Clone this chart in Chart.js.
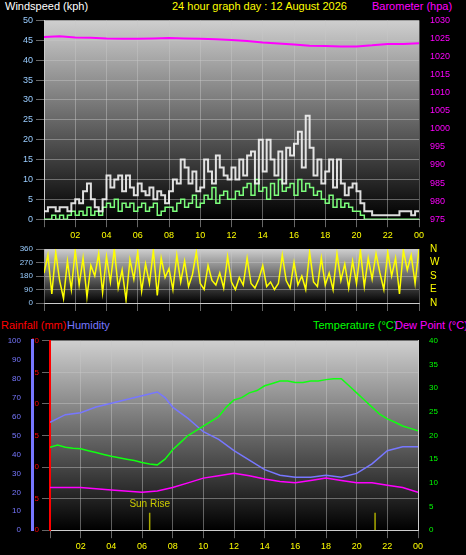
<!DOCTYPE html>
<html><head><meta charset="utf-8">
<script src="https://cdn.jsdelivr.net/npm/chart.js@4"></script>
<style>
body{margin:0;background:#000;width:466px;height:555px;position:relative;overflow:hidden;font-family:"Liberation Sans",Arial,sans-serif}
canvas{position:absolute;left:0}
.t{position:absolute;font-size:11px;white-space:nowrap}
</style></head><body>
<div class="t" style="left:5px;top:0px;color:#fff">Windspeed (kph)</div>
<div class="t" style="left:172px;top:0px;color:#ff0">24 hour graph day : 12 August 2026</div>
<div class="t" style="left:372px;top:0px;color:#f0f">Barometer (hpa)</div>
<div class="t" style="left:1px;top:319px;color:#f00">Rainfall (mm)</div>
<div class="t" style="left:67px;top:319px;color:#77f">Humidity</div>
<div class="t" style="left:313px;top:319px;color:#0f0">Temperature (°C)</div>
<div class="t" style="left:395px;top:319px;color:#f0f">Dew Point (°C)</div>
<canvas id="c1" width="466" height="232" style="top:12px"></canvas>
<canvas id="c2" width="466" height="72" style="top:240px"></canvas>
<canvas id="c3" width="466" height="222" style="top:333px"></canvas>
<script>
const windGust=[2,3,3,2,3,3,2,4, 5,4,7,9,5,3,2,5, 11,8,10,11,7,11,8,6, 9,7,6,8,5,7,6,4, 7,10,9,15,13,9,12,7, 8,15,12,9,16,13,11,10, 13,10,15,11,16,17,9,20, 12,20,15,11,17,9,18,16, 19,22,13,26,18,11,15,9, 12,15,8,15,9,6,8,9, 7,4,2,2,1,1,1,1, 1,1,1,2,2,2,1,2,2];
const windAvg=[0,0,1,0,1,0,1,2, 1,2,1,3,1,2,1,3, 4,3,5,2,4,3,4,2, 3,4,2,3,4,1,2,3, 3,2,4,5,3,4,6,3, 4,6,5,8,4,6,7,5, 5,7,6,8,9,6,10,7, 8,5,9,6,10,7,8,9, 6,10,7,9,8,6,7,5, 4,6,3,5,3,4,3,2, 2,1,0,0,0,0,0,0, 0,0,0,0,0,0,0,0,0];
const baroHours=[0,1,2,3,4,5,6,7,8,9,10,11,12,13,14,15,16,17,18,19,20,21,22,23,24];
const baro=[1025.4,1025.6,1025.3,1025.2,1025,1024.9,1024.9,1025,1025.1,1025,1024.9,1024.8,1024.6,1024.3,1023.9,1023.6,1023.3,1023,1022.9,1022.8,1022.8,1023.1,1023.5,1023.5,1023.7];
const windDir=[200,320,60,340,150,30,280,90,350,120,300,40,250,180,330,70,310,140,360,100,220,20,290,160,340,80,260,130,350,50,300,170,230,90,320,140,280,110,190,340,130,90,250,150,120,200,100,310,140,90,170,120,300,130,100,160,250,110,140,90,130,320,150,100,270,120,180,90,340,140,110,300,120,200,90,330,150,260,100,280,130,350,110,300,160,330,200,90,340,180,300,60,350,220,320,130,360];
const tempHours=[0,0.5,1,1.5,2,2.5,3,3.5,4,4.5,5,5.5,6,6.5,7,7.5,8,8.5,9,9.5,10,10.5,11,11.5,12,12.5,13,13.5,14,14.5,15,15.5,16,16.5,17,17.5,18,18.5,19,19.5,20,20.5,21,21.5,22,22.5,23,23.5,24];
const temp=[17.5,18,17.5,17.3,17.2,16.8,16.4,16,15.6,15.3,15,14.7,14.3,14,13.8,15,17,18.5,20,21,22,23,24,26,27.5,28,29,29.5,30.5,31,31.5,31.5,31.2,31.2,31.5,31.5,31.8,32,32,30.5,29,27.5,26,24.5,23.5,22.8,22,21.5,21];
const humHours=[0,1,2,3,4,5,6,7,7.5,8,9,10,11,12,13,14,15,16,17,18,19,20,21,22,23,24];
const humidity=[57,61,62,65,67,69,71,73,70,65,59,52,48,42,37,32,29,28,28,29,28,30,35,42,44,44];
const dewHours=[0,2,4,6,7,8,9,10,11,12,13,14,15,16,17,18,19,20,21,22,23,24];
const dewPoint=[9,9,8.5,8,8.3,9,10,11,11.5,12,11.5,10.8,10.3,10,10.5,11,10.5,10,10,9.5,9,8];
const rainHours=[0,24];
const rain=[0,0];
const sunEvents=[6.5,21.2];
const dirLabels={0:'N',90:'E',180:'S',270:'W',360:'N'};

const pts=(xs,ys)=>ys.map((y,i)=>({x:xs[i],y}));
const idx=(ys)=>ys.map((y,i)=>({x:i*24/(ys.length-1),y}));
const bg={id:'bg',beforeDraw(c){const x=c.ctx,a=c.chartArea;x.save();x.fillStyle='#000';x.fillRect(0,0,c.width,c.height);
 const g=x.createLinearGradient(0,a.top,0,a.bottom);g.addColorStop(0,'#cfcfcf');g.addColorStop(1,'#000');x.fillStyle=g;x.fillRect(a.left,a.top,a.right-a.left,a.bottom-a.top);x.restore();}};
const grid={color:'rgba(200,200,200,0.45)',borderDash:[1,2],drawTicks:true,tickColor:'#666'};
const hourTick=v=>(v===0?'':String(v%24).padStart(2,'0'));
const xAxis=(show)=>({type:'linear',min:0,max:24,ticks:{stepSize:2,display:show,color:'#ff0',font:{size:9},callback:hourTick,autoSkip:false,maxRotation:0},grid:grid,border:{color:'#ccc'}});
const fit=w=>function(s){s.width=w;};
const plain=v=>String(v);
Chart.defaults.animation=false;Chart.defaults.font.family='"Liberation Sans",Arial,sans-serif';
const common={responsive:false,plugins:{legend:{display:false},tooltip:{enabled:false}},elements:{point:{radius:0}}};

new Chart(c1,{type:'line',plugins:[bg],data:{datasets:[
 {data:idx(windGust),borderColor:'rgba(245,245,245,0.9)',borderWidth:2,stepped:true,yAxisID:'w'},
 {data:idx(windAvg),borderColor:'#7dff7d',borderWidth:1.5,stepped:true,yAxisID:'w'},
 {data:pts(baroHours,baro),borderColor:'#f0f',borderWidth:2,yAxisID:'b'}]},
 options:{...common,layout:{padding:{top:2}},scales:{x:xAxis(true),
 w:{position:'left',min:0,max:50,ticks:{stepSize:5,color:'#9cf',font:{size:9}},grid:grid,border:{color:'#ccc'},afterFit:fit(44)},
 b:{position:'right',min:975,max:1030,ticks:{stepSize:5,color:'#f0f',font:{size:9},callback:plain},grid:{display:false},afterFit:fit(47)}}}});

new Chart(c2,{type:'line',plugins:[bg],data:{datasets:[
 {data:idx(windDir),borderColor:'#ff0',borderWidth:1.5,yAxisID:'d'}]},
 options:{...common,layout:{padding:{top:3}},scales:{x:{...xAxis(false),ticks:{display:false,stepSize:2}},
 d:{position:'left',min:0,max:360,ticks:{stepSize:90,color:'#9cf',font:{size:8}},grid:grid,afterFit:fit(44)},
 r:{position:'right',min:0,max:360,ticks:{stepSize:90,autoSkip:false,color:'#ff0',font:{size:10},callback:v=>dirLabels[v]},grid:{display:false},afterFit:fit(47)}}}});

const sunLbl={id:'sun',afterDatasetsDraw(c){const x=c.ctx;x.save();x.fillStyle='#cc0';x.font='10px "Liberation Sans"';x.textAlign='center';
 x.fillText('Sun Rise',c.scales.x.getPixelForValue(sunEvents[0]),c.scales.t.getPixelForValue(5));x.restore();}};
new Chart(c3,{type:'line',plugins:[bg,sunLbl],data:{datasets:[
 {data:pts(tempHours,temp),borderColor:'#1f1',borderWidth:1.5,yAxisID:'t'},
 {data:pts(humHours,humidity),borderColor:'#77f',borderWidth:1.5,yAxisID:'h'},
 {data:pts(dewHours,dewPoint),borderColor:'#f0f',borderWidth:1.5,yAxisID:'t'},
 {data:pts(rainHours,rain),borderColor:'#f00',borderWidth:3,yAxisID:'r'},
 {data:[{x:sunEvents[0],y:0},{x:sunEvents[0],y:3.7}],borderColor:'#aa0',borderWidth:1.5,yAxisID:'t'},
 {data:[{x:sunEvents[1],y:0},{x:sunEvents[1],y:3.7}],borderColor:'#aa0',borderWidth:1.5,yAxisID:'t'}]},
 options:{...common,layout:{padding:{top:7}},scales:{x:xAxis(true),
 r:{position:'left',min:0,max:30,ticks:{stepSize:5,color:'#f00',font:{size:8}},grid:grid,border:{color:'#f00',width:2},afterFit:fit(18)},
 h:{position:'left',min:0,max:100,ticks:{stepSize:10,color:'#77f',font:{size:8}},grid:{display:false},border:{color:'#77f',width:3},afterFit:fit(32)},
 t:{position:'right',min:0,max:40,ticks:{stepSize:5,color:'#0f0',font:{size:8}},grid:{display:false},border:{color:'#ccc'},afterFit:fit(48)}}}});
</script></body></html>
